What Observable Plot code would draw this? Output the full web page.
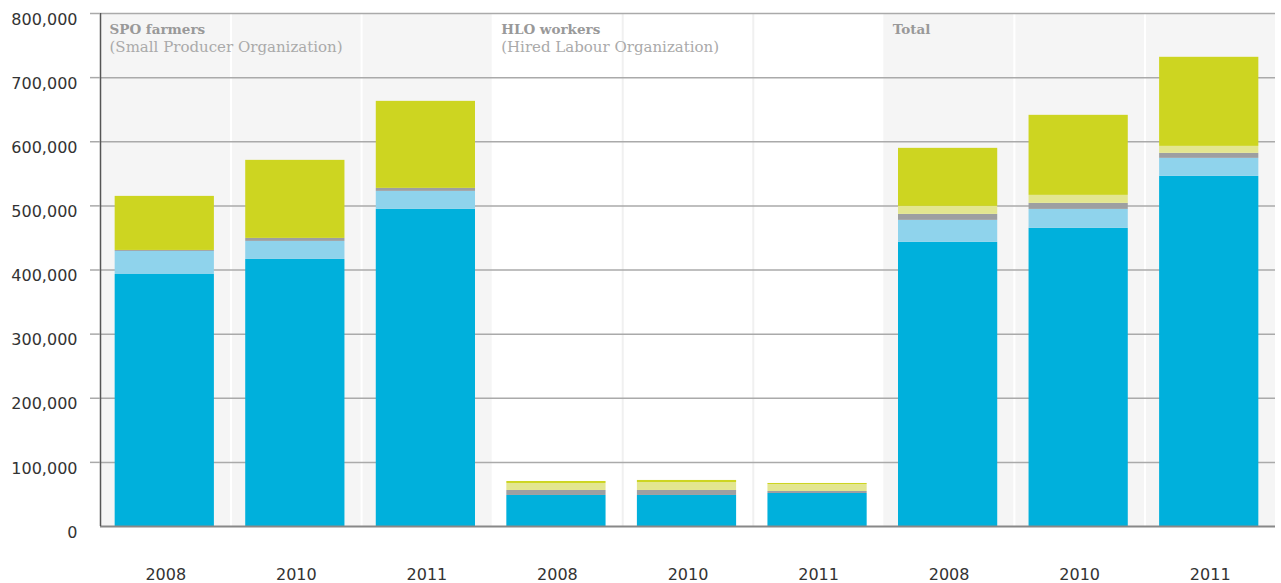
<!DOCTYPE html>
<html><head><meta charset="utf-8">
<script src="https://cdn.jsdelivr.net/npm/d3@7"></script>
<script src="https://cdn.jsdelivr.net/npm/@observablehq/plot@0.6"></script>
<style>body{margin:0;background:#fff} svg{display:block}</style>
</head><body><div id="chart"></div>
<script>
// Categories
const groups = ["SPO", "HLO", "Total"];
const groupTitles = ["SPO farmers", "HLO workers", "Total"];
const groupSubtitles = ["(Small Producer Organization)", "(Hired Labour Organization)", ""];
const years = ["2008", "2010", "2011"];
// Series (bottom to top)
const seriesNames = ["Series 1", "Series 2", "Series 3", "Series 4", "Series 5"];
const seriesColors = ["#00b0dc", "#8fd3ec", "#9d9fa1", "#e3e690", "#cdd521"];
// Values per bar: SPO 2008, 2010, 2011, HLO 2008, 2010, 2011, Total 2008, 2010, 2011
const series1 = [393000, 416500, 494500, 48400, 48400, 51500, 443100, 464900, 546000];
const series2 = [36000, 28100, 28100, 0, 0, 0, 34300, 29600, 28100];
const series3 = [1500, 4700, 4700, 7800, 7800, 3100, 9300, 9400, 7800];
const series4 = [0, 0, 0, 10900, 12400, 10900, 12500, 12500, 10900];
const series5 = [84300, 121700, 135700, 3100, 3200, 1600, 90500, 124800, 138900];
const yTicks = [0, 100000, 200000, 300000, 400000, 500000, 600000, 700000, 800000];

const allSeries = [series1, series2, series3, series4, series5];
const keys = [];
groups.forEach(g => years.forEach(y => keys.push(g + "|" + y)));
const data = [];
keys.forEach((k, i) => {
  allSeries.forEach((s, si) => data.push({key: k, series: seriesNames[si], value: s[i]}));
});

const W = 1281, H = 583, mL = 100, mR = 6, mT = 13, mB = 57;
const padIn = 0.24;
const step = (W - mL - mR) / keys.length;
const gap = step * padIn / 2;

const grayKeys = keys.filter(k => !k.startsWith("HLO"));
const whiteDiv = keys.filter(k => !k.startsWith("HLO") && !k.endsWith("2008"));
const grayDiv = keys.filter(k => k.startsWith("HLO") && !k.endsWith("2008"));
const firstKeys = groups.map(g => g + "|" + years[0]);
const titleData = groups.map((g, i) => ({key: firstKeys[i], title: groupTitles[i], sub: groupSubtitles[i]}));
const yMax = yTicks[yTicks.length - 1];

const chart = Plot.plot({
  width: W, height: H,
  marginLeft: mL, marginRight: mR, marginTop: mT, marginBottom: mB,
  style: {fontFamily: "DejaVu Sans, sans-serif", fontSize: "16px", color: "#333", background: "#fff"},
  x: {domain: keys, paddingInner: padIn, paddingOuter: padIn / 2, round: false},
  y: {domain: [0, yMax]},
  color: {domain: seriesNames, range: seriesColors},
  marks: [
    Plot.barY(grayKeys, {x: d => d, y1: 0, y2: yMax, fill: "#f5f5f5", insetLeft: -gap, insetRight: -gap}),
    Plot.ruleX(whiteDiv, {x: d => d, y1: 0, y2: yMax, stroke: "#ffffff", strokeWidth: 2, dx: -step / 2}),
    Plot.ruleX(grayDiv, {x: d => d, y1: 0, y2: yMax, stroke: "#f0f0f0", strokeWidth: 2, dx: -step / 2}),
    Plot.ruleY(yTicks.slice(1), {stroke: "#aaaaaa", strokeWidth: 1.5}),
    Plot.barY(data, {x: "key", y: "value", fill: "series", dx: -1}),
    Plot.ruleY([0], {stroke: "#888888", strokeWidth: 2}),
    Plot.ruleX([keys[0]], {x: d => d, y1: 0, y2: yMax, stroke: "#555555", strokeWidth: 1.5, dx: -step / 2}),
    Plot.axisY({ticks: yTicks.slice(1), tickSize: 10, tickFormat: () => "", label: null, stroke: "#aaaaaa", strokeWidth: 1.5}),
    Plot.axisY({ticks: yTicks, tickSize: 0, tickPadding: 23, tickFormat: d3.format(","), label: null, dy: 6, fill: "#333"}),
    Plot.axisX({tickSize: 0, tickPadding: 42, tickFormat: k => k.split("|")[1], label: null, fill: "#333"}),
    Plot.text(titleData, {x: "key", y: yMax, text: "title", textAnchor: "start", dx: -step / 2 + 9, dy: 16,
      fontFamily: "DejaVu Serif, serif", fontWeight: "bold", fontSize: 13.5, fill: "#999999"}),
    Plot.text(titleData, {x: "key", y: yMax, text: "sub", textAnchor: "start", dx: -step / 2 + 9, dy: 34,
      fontFamily: "DejaVu Serif, serif", fontSize: 15, fill: "#aaaaaa"})
  ]
});
document.getElementById("chart").appendChild(chart);
</script>
</body></html>
